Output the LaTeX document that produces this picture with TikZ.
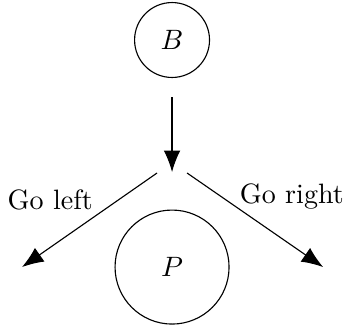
\documentclass[tikz,border=0pt]{standalone}
\usetikzlibrary{arrows.meta,positioning}

\begin{document}
\begin{tikzpicture}[
      st/.style={circle, draw, thin, inner sep=0pt},
      arr/.style={-{Latex[length=2.7mm,width=2.1mm]}, thin}]
    \useasboundingbox (0,0) rectangle (4.34,4.14);
    \node[st, minimum size=0.94cm] (B) at (2.158,3.638) {$B$};
    \node[st, minimum size=1.43cm] (P) at (2.158,0.79) {$P$};
    \coordinate (top) at (2.158,2.923);
    \coordinate (split) at (2.158,1.982);
    \coordinate (lstart) at (1.97,1.97);
    \coordinate (rstart) at (2.346,1.97);
    \coordinate (lend) at (0.276,0.79);
    \coordinate (rend) at (4.053,0.79);
    \draw[arr] (top)--(split);
    \draw[arr] (lstart)--(lend);
    \draw[arr] (rstart)--(rend);
    \node (goleft) at (0.63,1.63) {Go left};
    \node (goright) at (3.66,1.68) {Go right};
  \end{tikzpicture}
\end{document}
